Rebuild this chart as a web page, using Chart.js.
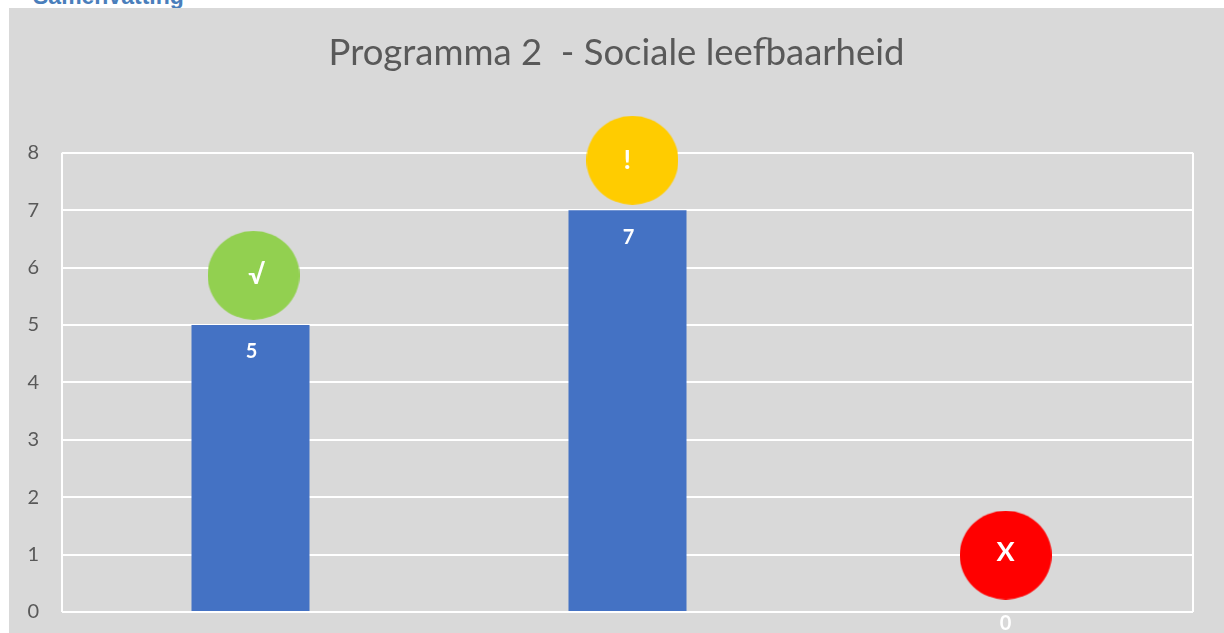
<!DOCTYPE html>
<html>
<head>
<meta charset="utf-8">
<title>Programma 2 - Sociale leefbaarheid</title>
<script src="https://cdn.jsdelivr.net/npm/chart.js@4"></script>
<style>
  html, body { margin: 0; padding: 0; width: 1224px; height: 633px; overflow: hidden; background: #fff; }
  #kop { position: absolute; left: 33px; top: -17px; font: bold 23px "Liberation Sans", Arial, sans-serif; color: #4a7ebb; line-height: 26px; }
  #vlak { position: absolute; left: 9px; top: 8px; width: 1215px; height: 625px; background: #d9d9d9; }
</style>
</head>
<body>
<div id="kop">Samenvatting</div>
<div id="vlak"><canvas id="grafiek" width="1215" height="625"></canvas></div>
<script>
  const categories = ['1', '2', '3'];
  const waardes = [5, 7, 0];
  const yTicks = [0, 1, 2, 3, 4, 5, 6, 7, 8];

  // stoplicht bolletjes boven de balken
  const bolX = [0.008, 1.013, 2.003];
  const bolY = [5.865, 7.87, 0.99];
  const bolKleur = ['#92d050', '#ffcc00', '#ff0000'];
  const bolTekst = ['√', '!', 'X'];
  const bolTekstDx = [3, -5, 0];
  const bolTekstDy = [0, 0, -3];

  const grijs = '#595959';
  const wit = '#ffffff';

  // de bolletjes zijn in het origineel iets platgedrukt, dus een ellips als pointStyle
  function maakBol(kleur) {
    const c = document.createElement('canvas');
    c.width = 92;
    c.height = 89;
    const g = c.getContext('2d');
    g.fillStyle = kleur;
    g.beginPath();
    g.ellipse(46, 44.5, 46, 44.5, 0, 0, Math.PI * 2);
    g.fill();
    return c;
  }
  const bollen = bolKleur.map(maakBol);

  const labelPlugin = {
    id: 'labels',
    afterDatasetsDraw(chart) {
      const ctx = chart.ctx;
      ctx.save();
      ctx.fillStyle = wit;
      ctx.textAlign = 'center';
      ctx.textBaseline = 'middle';
      ctx.font = 'bold 20px Lato';
      chart.getDatasetMeta(0).data.forEach((bar, i) => {
        ctx.fillText(String(waardes[i]), bar.x + 1, bar.y + (waardes[i] ? 27 : 12));
      });
      ctx.font = 'bold 27px Lato';
      chart.getDatasetMeta(1).data.forEach((punt, i) => {
        ctx.fillText(bolTekst[i], punt.x + bolTekstDx[i], punt.y + bolTekstDy[i]);
      });
      ctx.restore();
    }
  };

  new Chart(document.getElementById('grafiek').getContext('2d'), {
    type: 'bar',
    plugins: [labelPlugin],
    data: {
      labels: categories,
      datasets: [
        {
          data: waardes,
          backgroundColor: '#4472c4',
          barPercentage: 0.313,
          categoryPercentage: 1,
          grouped: false,
          order: 2
        },
        {
          type: 'scatter',
          xAxisID: 'xm',
          data: bolX.map((x, i) => ({ x: x, y: bolY[i] })),
          pointStyle: ctx => bollen[ctx.dataIndex],
          pointRadius: 46,
          pointHoverRadius: 46,
          borderWidth: 0,
          clip: false,
          order: 1
        }
      ]
    },
    options: {
      responsive: false,
      animation: false,
      layout: { autoPadding: false, padding: { bottom: 21 } },
      plugins: {
        legend: { display: false },
        tooltip: { enabled: false },
        title: {
          display: true,
          text: 'Programma 2  - Sociale leefbaarheid',
          color: grijs,
          font: { family: 'Lato', size: 36.5, weight: 'normal' },
          padding: { top: 23, bottom: 78 }
        }
      },
      scales: {
        x: { display: false, offset: true },
        xm: {
          type: 'linear',
          position: 'bottom',
          offset: false,
          min: -0.5,
          max: 2.5,
          afterBuildTicks(scale) { scale.ticks = [{ value: -0.5 }, { value: 2.5 }]; },
          afterFit(scale) { scale.height = 0; },
          ticks: { display: false },
          border: { display: false },
          grid: { offset: false, color: wit, lineWidth: 2, drawTicks: false }
        },
        y: {
          min: 0,
          max: 8,
          afterBuildTicks(scale) { scale.ticks = yTicks.map(v => ({ value: v })); },
          afterFit(scale) { scale.width = 53; },
          border: { display: false },
          // onzichtbare tick marks, geven de ruimte tussen cijfer en vlak
          grid: { color: wit, lineWidth: 2, drawTicks: true, tickLength: 23, tickColor: 'transparent' },
          ticks: {
            color: grijs,
            padding: 0,
            font: { family: 'Lato', size: 20 }
          }
        },
        // lege as rechts, houdt de titel midden op het vlak
        rechts: {
          type: 'linear',
          axis: 'y',
          position: 'right',
          afterFit(scale) { scale.width = 31; },
          ticks: { display: false },
          border: { display: false },
          grid: { display: false, drawTicks: false }
        }
      }
    }
  });
</script>
</body>
</html>
